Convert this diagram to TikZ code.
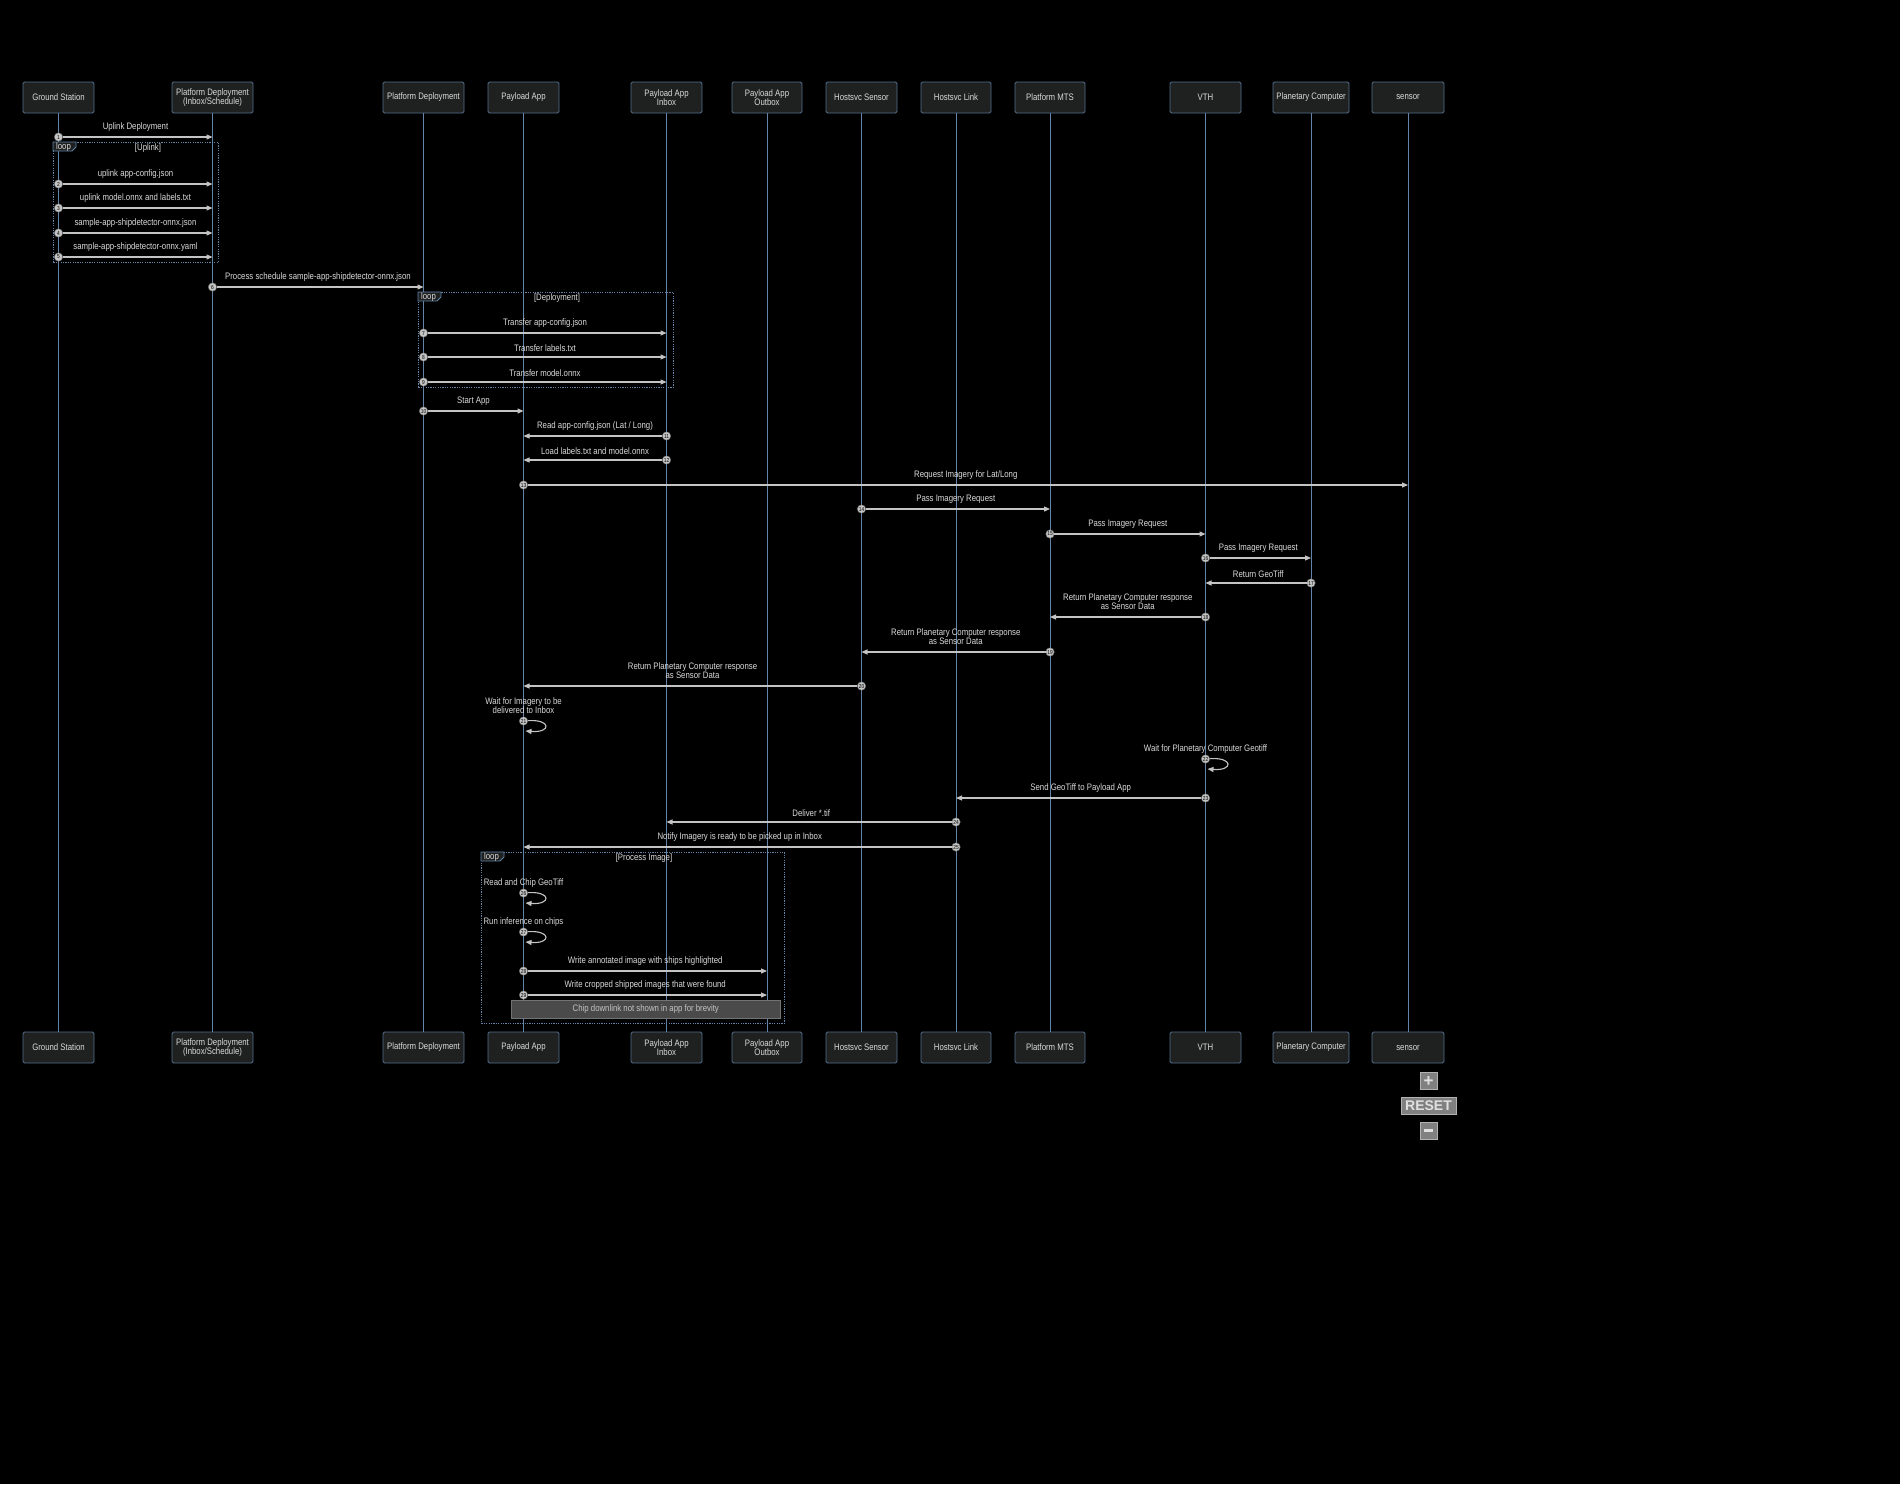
\documentclass[tikz,border=0pt]{standalone}
\usepackage{fontspec}
\newfontfamily\seqfont{Liberation Sans}[FakeStretch=0.83]
\newfontfamily\btnfont{Liberation Sans}
\usetikzlibrary{positioning,arrows.meta,calc}
\definecolor{actorfill}{RGB}{31,32,32}
\definecolor{actorline}{RGB}{84,112,142}
\definecolor{lifeblue}{RGB}{98,132,168}
\definecolor{msggrey}{RGB}{196,196,196}
\definecolor{txtgrey}{RGB}{218,218,218}
\definecolor{notefill}{RGB}{74,74,74}
\definecolor{btngrey}{RGB}{128,128,128}

\begin{document}
\begin{tikzpicture}[x=1pt,y=-1pt,
  actor/.style={draw=actorline,fill=actorfill,line width=0.9pt,rounded corners=1.5pt,
    minimum height=31pt,inner sep=1pt,align=center,text=txtgrey,
    font=\seqfont\fontsize{9.4}{9}\selectfont},
  lifeline/.style={draw=lifeblue,line width=1pt},
  msg/.style={draw=msggrey,line width=1.1pt,-{Triangle[length=6pt,width=5pt]}},
  seqnum/.style={circle,fill=msggrey,draw=black!60,line width=0.4pt,minimum size=8.5pt,
    inner sep=0pt,text=black,font=\seqfont\fontsize{5.8}{6}\selectfont},
  msglbl/.style={anchor=south,inner sep=0pt,align=center,text=txtgrey,
    font=\seqfont\fontsize{9.4}{9}\selectfont},
  loopframe/.style={draw=lifeblue,line width=0.9pt,dash pattern=on 1.2pt off 1.2pt,
    inner sep=0pt,anchor=north west},
  looptab/.style={draw=lifeblue,fill=actorfill,line width=0.8pt},
  notebox/.style={draw=black!55,fill=notefill,line width=0.6pt,inner sep=0pt,anchor=north west,
    text=msggrey,font=\seqfont\fontsize{9.4}{9}\selectfont},
  btn/.style={draw=black!30,fill=btngrey,line width=0.6pt,inner sep=0pt,text=black!12,
    font=\btnfont\bfseries}]
  \fill[black] (0,0) rectangle (1900,1484);
  % participants: top box, bottom box and the lifeline between them
  \foreach \nm/\x/\w/\txt in {
    gs/58.5/71/Ground Station,
    pdi/212.5/81/{Platform Deployment\\(Inbox/Schedule)},
    pd/423.5/81/Platform Deployment,
    app/523.5/71/Payload App,
    inb/666.5/71/{Payload App\\Inbox},
    out/767/70/{Payload App\\Outbox},
    hss/861.5/71/Hostsvc Sensor,
    hsl/956/70/Hostsvc Link,
    mts/1050/70/Platform MTS,
    vth/1205.5/71/VTH,
    pc/1311/76/Planetary Computer,
    sen/1408/72/sensor} {
    \node[actor,minimum width=\w] (\nm) at (\x,97.5) {\txt};
    \node[actor,minimum width=\w] (\nm-b) at (\x,1047.5) {\txt};
    \draw[lifeline] (\nm) -- (\nm-b);
  }
  % loop frames: name / left / top / width / height / label x / condition
  \foreach \nm/\x/\y/\w/\h/\cx/\txt in {
    upl/53/142/165/120/148/Uplink,
    dep/418/292/255/95/557/Deployment,
    img/481/852/303/171/644/Process Image} {
    \node[loopframe,minimum width=\w,minimum height=\h] (\nm) at (\x,\y) {};
    \draw[looptab] (\nm.north west) -- ++(23,0) -- ++(0,5) -- ++(-4,4) -- ++(-19,0) -- cycle;
    \node[msglbl,anchor=center] (\nm-l) at ($(\nm.north west)+(10.5,5)$) {loop};
    \node[msglbl,anchor=center] (\nm-c) at (\cx,\y+6) {[\txt]};
  }
  % messages: number / from / to / y / label lift / text
  \foreach \n/\src/\dst/\y/\dy/\txt in {
    1/gs/pdi/137/5.5/Uplink Deployment,
    2/gs/pdi/184/5.5/uplink app-config.json,
    3/gs/pdi/208/5.5/uplink model.onnx and labels.txt,
    4/gs/pdi/233/5.5/sample-app-shipdetector-onnx.json,
    5/gs/pdi/257/5.5/sample-app-shipdetector-onnx.yaml,
    6/pdi/pd/287/5.5/Process schedule sample-app-shipdetector-onnx.json,
    7/pd/inb/333/5.5/Transfer app-config.json,
    8/pd/inb/357/5.5/Transfer labels.txt,
    9/pd/inb/382/5.5/Transfer model.onnx,
    10/pd/app/411/5.5/Start App,
    11/inb/app/436/5.5/{Read app-config.json (Lat / Long)},
    12/inb/app/460/5.5/Load labels.txt and model.onnx,
    13/app/sen/485/5.5/{Request Imagery for Lat/Long},
    14/hss/mts/509/5.5/Pass Imagery Request,
    15/mts/vth/534/5.5/Pass Imagery Request,
    16/vth/pc/558/5.5/Pass Imagery Request,
    17/pc/vth/583/5.5/Return GeoTiff,
    18/vth/mts/617/7.5/{Return Planetary Computer response\\as Sensor Data},
    19/mts/hss/652/7.5/{Return Planetary Computer response\\as Sensor Data},
    20/hss/app/686/7.5/{Return Planetary Computer response\\as Sensor Data},
    23/vth/hsl/798/5.5/Send GeoTiff to Payload App,
    24/hsl/inb/822/5.5/Deliver *.tif,
    25/hsl/app/847/5.5/Notify Imagery is ready to be picked up in Inbox,
    28/app/out/971/5.5/Write annotated image with ships highlighted,
    29/app/out/995/5.5/Write cropped shipped images that were found} {
    \node[seqnum] (n\n) at (\src |- 0,\y) {\n};
    \draw[msg] (n\n) -- (\dst |- n\n);
    \node[msglbl,yshift=\dy] (t\n) at ($(n\n)!0.5!(\dst |- n\n)$) {\txt};
  }
  % self messages
  \foreach \n/\on/\y/\dy/\txt in {
    21/app/721/7.5/{Wait for Imagery to be\\delivered to Inbox},
    22/vth/759/5.5/Wait for Planetary Computer Geotiff,
    26/app/893/5.5/Read and Chip GeoTiff,
    27/app/932/5.5/Run inference on chips} {
    \node[seqnum] (n\n) at (\on |- 0,\y) {\n};
    \coordinate (r\n) at ($(n\n)+(2,10)$);
    \draw[msg] (n\n) .. controls +(28,-2) and +(26,2) .. (r\n);
    \node[msglbl,yshift=\dy] (t\n) at (n\n) {\txt};
  }
  \node[notebox,minimum width=269,minimum height=18] (note) at (511,1000)
    {Chip downlink not shown in app for brevity};
  % zoom buttons
  \node[btn,minimum size=17pt,font=\btnfont\bfseries\fontsize{17}{17}\selectfont] (zin) at (1428.5,1081) {+};
  \node[btn,minimum width=55pt,minimum height=17pt,font=\btnfont\bfseries\fontsize{14}{14}\selectfont] (zreset) at (1428.5,1105.5) {RESET};
  \node[btn,minimum size=17pt] (zout) at (1428.5,1130.5) {\rule{9pt}{2.6pt}};
\end{tikzpicture}
\end{document}
